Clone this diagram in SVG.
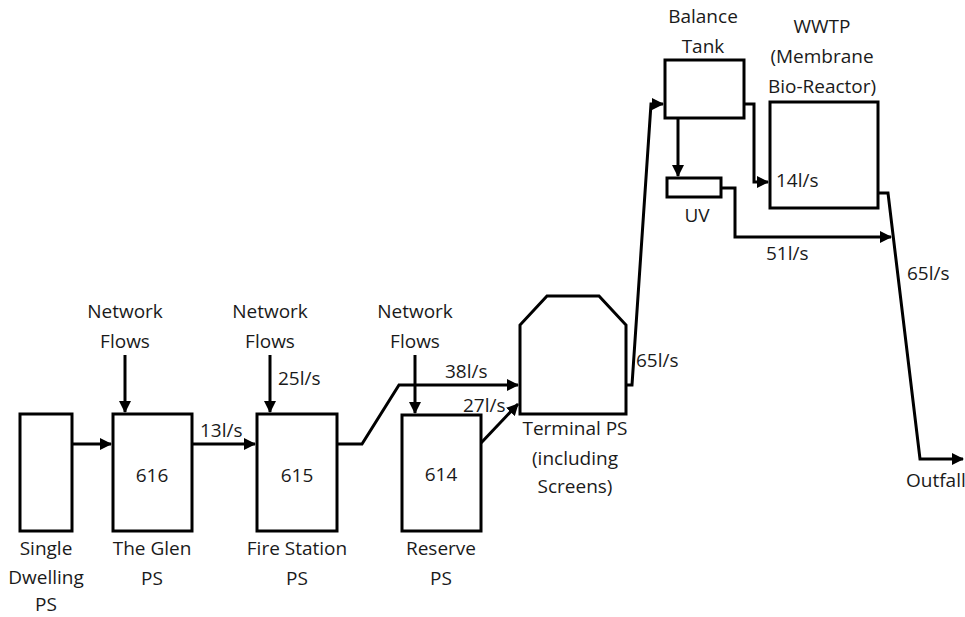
<svg xmlns="http://www.w3.org/2000/svg" width="965" height="617" viewBox="0 0 965 617">
<style>
.box{fill:#fff;stroke:#000;stroke-width:3}
.ln{fill:none;stroke:#000;stroke-width:3;stroke-linejoin:miter}
text{font-family:"Open Sans","Liberation Sans",sans-serif;font-size:19px;fill:#1a1a1a}
.c{text-anchor:middle}
</style>
<defs>
<marker id="ah" markerUnits="userSpaceOnUse" markerWidth="12" markerHeight="12" viewBox="0 0 12 12" refX="11" refY="6" orient="auto">
<path d="M0,0 L12,6 L0,12 Z" fill="#000"/>
</marker>
</defs>
<rect width="965" height="617" fill="#fff"/>
<g id="connectors">
<path class="ln" d="M72,444 H111" marker-end="url(#ah)"/>
<path class="ln" d="M192,444 H255" marker-end="url(#ah)"/>
<path class="ln" d="M125,355 V412" marker-end="url(#ah)"/>
<path class="ln" d="M270,355 V412" marker-end="url(#ah)"/>
<path class="ln" d="M337,444 H362 L399,385 H518" marker-end="url(#ah)"/>
<path class="ln" d="M415,355 V413" marker-end="url(#ah)"/>
<path class="ln" d="M481,443 L518,404" marker-end="url(#ah)"/>
<path class="ln" d="M626,385 H632 L651,104 H663" marker-end="url(#ah)"/>
<path class="ln" d="M744,104 H754 V182 H768" marker-end="url(#ah)"/>
<path class="ln" d="M678,118 V176" marker-end="url(#ah)"/>
<path class="ln" d="M721,188 H735 V237 H891" marker-end="url(#ah)"/>
<path class="ln" d="M878,193 H888 L920,459 H963" marker-end="url(#ah)"/>
</g>
<g id="single-dwelling">
<rect class="box" x="20" y="414" width="52" height="117"/>
<text class="c" x="46" y="555">Single</text>
<text class="c" x="46" y="584">Dwelling</text>
<text class="c" x="46" y="611">PS</text>
</g>
<g id="the-glen">
<rect class="box" x="113" y="414" width="79" height="117"/>
<text class="c" x="152" y="482">616</text>
<text class="c" x="152" y="555">The Glen</text>
<text class="c" x="152" y="585">PS</text>
</g>
<g id="fire-station">
<rect class="box" x="257" y="414" width="80" height="117"/>
<text class="c" x="297" y="482">615</text>
<text class="c" x="297" y="555">Fire Station</text>
<text class="c" x="297" y="585">PS</text>
</g>
<g id="reserve">
<rect class="box" x="402" y="415" width="79" height="116"/>
<text class="c" x="441" y="481">614</text>
<text class="c" x="441" y="555">Reserve</text>
<text class="c" x="441" y="585">PS</text>
</g>
<g id="terminal">
<path class="box" d="M520,414 V325 L547,296 H599 L626,325 V414 Z"/>
<text class="c" x="575" y="435">Terminal PS</text>
<text class="c" x="575" y="465">(including</text>
<text class="c" x="575" y="493">Screens)</text>
</g>
<g id="balance-tank">
<rect class="box" x="665" y="60" width="79" height="58"/>
<text class="c" x="703" y="23">Balance</text>
<text class="c" x="703" y="53">Tank</text>
</g>
<g id="uv">
<rect class="box" x="667" y="178" width="54" height="19"/>
<text class="c" x="697" y="222">UV</text>
</g>
<g id="wwtp">
<rect class="box" x="770" y="102" width="108" height="106"/>
<text class="c" x="822" y="33">WWTP</text>
<text class="c" x="822" y="63">(Membrane</text>
<text class="c" x="822" y="93">Bio-Reactor)</text>
</g>
<g id="network-flows">
<text class="c" x="125" y="318">Network</text>
<text class="c" x="125" y="348">Flows</text>
<text class="c" x="270" y="318">Network</text>
<text class="c" x="270" y="348">Flows</text>
<text class="c" x="415" y="318">Network</text>
<text class="c" x="415" y="348">Flows</text>
</g>
<g id="outfall">
<text x="906" y="487">Outfall</text>
</g>
<g id="flow-labels">
<text x="200" y="437">13l/s</text>
<text x="278" y="385">25l/s</text>
<text x="445" y="378">38l/s</text>
<text x="463" y="412">27l/s</text>
<text x="636" y="367">65l/s</text>
<text x="776" y="187">14l/s</text>
<text x="766" y="260">51l/s</text>
<text x="907" y="280">65l/s</text>
</g>
</svg>
